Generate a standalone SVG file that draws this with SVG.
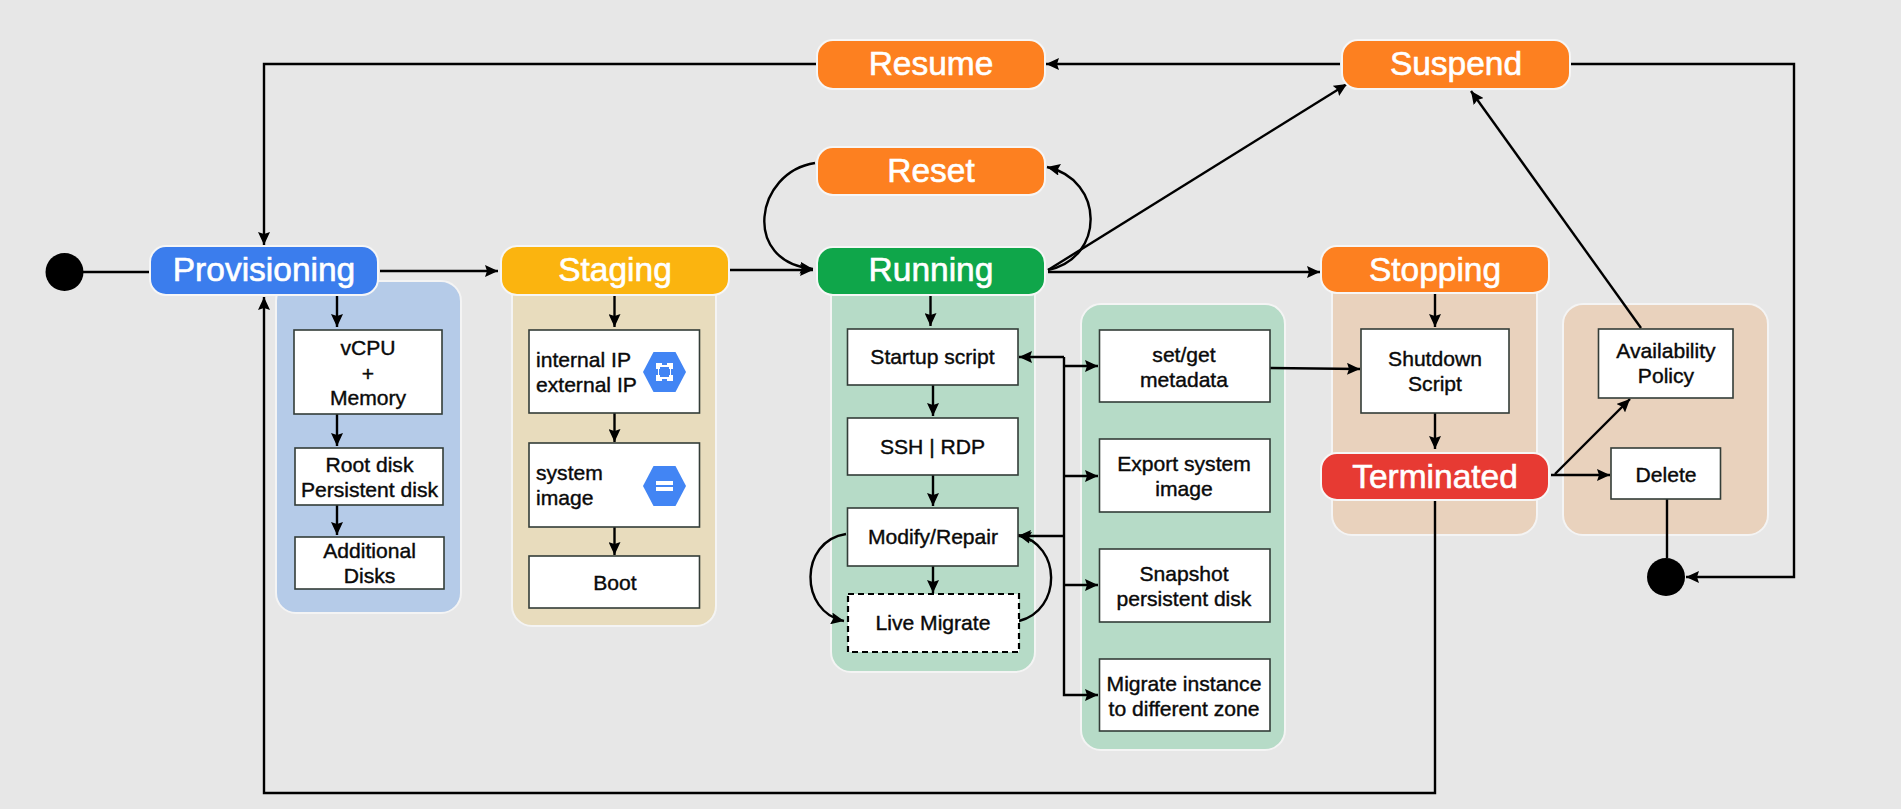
<svg xmlns="http://www.w3.org/2000/svg" width="1901" height="809" viewBox="0 0 1901 809">
<defs>
<marker id="arr" markerUnits="userSpaceOnUse" markerWidth="14" markerHeight="12" refX="13" refY="6" orient="auto"><path d="M0 0L13 6L0 12L2 6Z" fill="#000"/></marker>
</defs>
<style>
text{font-family:"Liberation Sans",Arial,sans-serif;text-anchor:middle}
.panel{stroke:#f4f4f4;stroke-width:2}
.blue{fill:#b5cbe8}.tan{fill:#e8dcbd}.grn{fill:#b6dbc7}.pch{fill:#e9d2bd}
.hd{stroke:#f6f6f6;stroke-width:2}
.hd-t{font-size:33.5px;fill:#fff;stroke:#fff;stroke-width:.6}
.box{fill:#fff;stroke:#333d38;stroke-width:1.6}
.dash{fill:#fff;stroke:#000;stroke-width:2.2;stroke-dasharray:6 4}
.t{font-size:21.1px;fill:#0a0a0a;stroke:#0a0a0a;stroke-width:.4}
.l{text-anchor:start}
.c{fill:none;stroke:#000;stroke-width:2.4;marker-end:url(#arr)}
.n{fill:none;stroke:#000;stroke-width:2.4}
.dot{fill:#000}
.hex{fill:#4285f4}
.ic{fill:#fff}
</style>
<rect width="1901" height="809" fill="#e7e7e7"/>

<g id="panels">
<rect id="panel-provisioning" class="panel blue" x="276" y="281" width="185" height="332" rx="20"/>
<rect id="panel-staging" class="panel tan" x="512" y="270" width="204" height="356" rx="20"/>
<rect id="panel-running" class="panel grn" x="831" y="270" width="204" height="402" rx="20"/>
<rect id="panel-actions" class="panel grn" x="1081" y="304" width="204" height="446" rx="20"/>
<rect id="panel-stopping" class="panel pch" x="1332" y="270" width="205" height="265" rx="20"/>
<rect id="panel-policy" class="panel pch" x="1563" y="304" width="205" height="231" rx="20"/>
</g>

<g id="connectors">
<path class="n" d="M83 272H150"/>
<path class="c" d="M380 271H498"/>
<path class="c" d="M729 270H813"/>
<path class="c" d="M1048 272H1320"/>
<path class="c" d="M1340 64H1046"/>
<path class="c" d="M816 64H264V245"/>
<path class="c" d="M1435 500V793H264V297"/>
<path class="c" d="M1570 64H1794V577H1686"/>
<path class="c" d="M1048 270L1347 84"/>
<path class="c" d="M1641 328L1471 91"/>
<path class="c" d="M815 163C755 172 741 262 813 269"/>
<path class="c" d="M1048 270C1105 258 1105 180 1047 167"/>
<path class="c" d="M337 295V327"/>
<path class="c" d="M337 414V446"/>
<path class="c" d="M337 505V535"/>
<path class="c" d="M614.500 295V327"/>
<path class="c" d="M614.500 413V442"/>
<path class="c" d="M614.500 527V555"/>
<path class="c" d="M930.500 294V326"/>
<path class="c" d="M933 385V416"/>
<path class="c" d="M933 475V506"/>
<path class="c" d="M933 566V593"/>
<path class="c" d="M846 534C799 541 799 612 844 621"/>
<path class="c" d="M1019 621C1062 610 1062 545 1018 535"/>
<path class="c" d="M1064 357H1019"/>
<path class="c" d="M1064 536H1018"/>
<path class="c" d="M1064 357V695H1098"/>
<path class="c" d="M1064 366H1098"/>
<path class="c" d="M1064 476H1098"/>
<path class="c" d="M1064 585H1098"/>
<path class="c" d="M1270 368L1360 369"/>
<path class="c" d="M1435 293V327"/>
<path class="c" d="M1435 413V449"/>
<path class="c" d="M1551 475H1610"/>
<path class="c" d="M1555 474L1630 399"/>
<path class="n" d="M1667 499V558"/>
</g>

<g id="start"><circle class="dot" cx="64.500" cy="272" r="19"/></g>
<g id="end"><circle class="dot" cx="1666" cy="577" r="19"/></g>

<g id="provisioning"><rect class="hd" x="150" y="246" width="228" height="49" rx="16" fill="#3b7ded"/><text class="hd-t" x="264" y="281">Provisioning</text></g>
<g id="staging"><rect class="hd" x="501" y="246" width="228" height="49" rx="16" fill="#fbb40f"/><text class="hd-t" x="615" y="281">Staging</text></g>
<g id="running"><rect class="hd" x="817" y="247" width="228" height="48" rx="16" fill="#0fa64a"/><text class="hd-t" x="931" y="281">Running</text></g>
<g id="reset"><rect class="hd" x="817" y="147" width="228" height="48" rx="16" fill="#fd8020"/><text class="hd-t" x="931" y="182">Reset</text></g>
<g id="resume"><rect class="hd" x="817" y="40" width="228" height="49" rx="16" fill="#fd8020"/><text class="hd-t" x="931" y="75">Resume</text></g>
<g id="suspend"><rect class="hd" x="1342" y="40" width="228" height="49" rx="16" fill="#fd8020"/><text class="hd-t" x="1456" y="75">Suspend</text></g>
<g id="stopping"><rect class="hd" x="1321" y="246" width="228" height="47" rx="16" fill="#fd8020"/><text class="hd-t" x="1435" y="281">Stopping</text></g>
<g id="terminated"><rect class="hd" x="1321" y="453" width="228" height="47" rx="16" fill="#e73a33"/><text class="hd-t" x="1435" y="488">Terminated</text></g>

<g id="vcpu"><rect class="box" x="294" y="330" width="148" height="84"/><text class="t" x="368" y="355">vCPU</text><text class="t" x="368" y="381">+</text><text class="t" x="368" y="405">Memory</text></g>
<g id="root-disk"><rect class="box" x="295" y="448" width="148" height="57"/><text class="t" x="369.500" y="472">Root disk</text><text class="t" x="369.500" y="497">Persistent disk</text></g>
<g id="additional-disks"><rect class="box" x="295" y="537" width="149" height="52"/><text class="t" x="369.500" y="558">Additional</text><text class="t" x="369.500" y="583">Disks</text></g>

<g id="ip"><rect class="box" x="529" y="330" width="170.500" height="83"/><text class="t l" x="536" y="367">internal IP</text><text class="t l" x="536" y="392">external IP</text>
<path class="hex" d="M643 372L653.500 352H675.500L686 372L675.500 392H653.500Z"/>
<path class="ic" fill-rule="evenodd" d="M656 363h6v2h5v-2h6v6h-2v6h2v6h-6v-2h-5v2h-6v-6h2v-6h-2ZM660 367v2h-1v6h1v2h9v-2h1v-6h-1v-2Z"/></g>
<g id="system-image"><rect class="box" x="529" y="443" width="170.500" height="84"/><text class="t l" x="536" y="480">system</text><text class="t l" x="536" y="505">image</text>
<path class="hex" d="M643 486L653.500 466H675.500L686 486L675.500 506H653.500Z"/>
<rect class="ic" x="656" y="481" width="17" height="4"/><rect class="ic" x="656" y="487" width="17" height="4"/></g>
<g id="boot"><rect class="box" x="529" y="556" width="170.500" height="52"/><text class="t" x="615" y="590">Boot</text></g>

<g id="startup"><rect class="box" x="847.500" y="329" width="170.500" height="56"/><text class="t" x="932.500" y="364">Startup script</text></g>
<g id="ssh"><rect class="box" x="847.500" y="418" width="170.500" height="57"/><text class="t" x="932.500" y="454">SSH | RDP</text></g>
<g id="modify"><rect class="box" x="847.500" y="508" width="170.500" height="58"/><text class="t" x="933" y="544">Modify/Repair</text></g>
<g id="live"><rect class="dash" x="848" y="594" width="171" height="58"/><text class="t" x="933" y="630">Live Migrate</text></g>

<g id="metadata"><rect class="box" x="1099.500" y="330" width="170.500" height="72"/><text class="t" x="1184" y="362">set/get</text><text class="t" x="1184" y="387">metadata</text></g>
<g id="export"><rect class="box" x="1099.500" y="439" width="170.500" height="73"/><text class="t" x="1184" y="471">Export system</text><text class="t" x="1184" y="496">image</text></g>
<g id="snapshot"><rect class="box" x="1099.500" y="549" width="170.500" height="73"/><text class="t" x="1184" y="581">Snapshot</text><text class="t" x="1184" y="606">persistent disk</text></g>
<g id="migrate"><rect class="box" x="1099.500" y="659" width="170.500" height="72"/><text class="t" x="1184" y="691">Migrate instance</text><text class="t" x="1184" y="716">to different zone</text></g>

<g id="shutdown"><rect class="box" x="1361" y="329" width="148" height="84"/><text class="t" x="1435" y="366">Shutdown</text><text class="t" x="1435" y="391">Script</text></g>
<g id="availability"><rect class="box" x="1598.500" y="329" width="134.500" height="69"/><text class="t" x="1666" y="358">Availability</text><text class="t" x="1666" y="383">Policy</text></g>
<g id="delete"><rect class="box" x="1611" y="448" width="109.500" height="51"/><text class="t" x="1666" y="482">Delete</text></g>
</svg>
